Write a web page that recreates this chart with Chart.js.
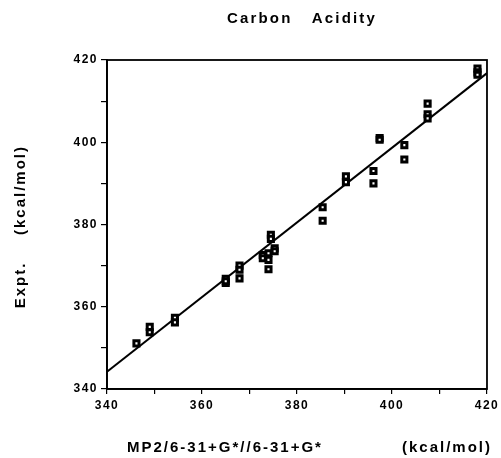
<!DOCTYPE html>
<html>
<head>
<meta charset="utf-8">
<script src="https://cdn.jsdelivr.net/npm/chart.js@4.4.0/dist/chart.umd.min.js"></script>
<style>
  html, body { margin: 0; padding: 0; background: #fff; }
  #wrap { width: 501px; height: 458px; position: relative; }
</style>
</head>
<body>
<div id="wrap"><canvas id="acidityChart"></canvas></div>
<script>
// calculated (MP2/6-31+G*//6-31+G*) vs experimental values, kcal/mol
var calcX = [346.2, 349.0, 349.0, 354.3, 354.3, 365.0, 365.0, 365.0, 367.9, 367.9, 367.9,
             372.8, 372.8, 374.0, 374.0, 374.0, 374.5, 374.5, 375.3, 375.3, 385.4, 385.4,
             390.3, 390.3, 396.1, 396.1, 397.4, 397.4, 402.6, 402.6, 407.5, 407.5, 407.5,
             418.0, 418.0, 418.0];
var exptY = [351.1, 355.1, 353.8, 357.3, 356.2, 366.8, 365.8, 366.2, 370.0, 369.0, 366.9,
             372.6, 371.8, 373.0, 371.4, 369.1, 377.5, 376.5, 374.2, 373.5, 384.2, 380.9,
             391.7, 390.3, 393.0, 390.0, 401.0, 400.6, 399.3, 395.8, 409.4, 406.8, 405.8,
             417.9, 417.0, 416.4];
// fitted line end points
var fitX = [340, 420];
var fitY = [344.2, 416.8];
var axisMin = 340, axisMax = 420;
var tickLabels = ['340', '360', '380', '400', '420'];

var points = calcX.map(function(x, i) { return { x: x, y: exptY[i] }; });
var fitLine = fitX.map(function(x, i) { return { x: x, y: fitY[i] }; });

var boldFont = { family: '"Liberation Sans", Arial, sans-serif', size: 12, weight: 'bold' };

function tickText(value) {
  var s = String(value);
  return tickLabels.indexOf(s) >= 0 ? s : '';
}

// frame + titles drawn on the canvas
var decorations = {
  id: 'decorations',
  beforeDraw: function(chart) {
    chart.ctx.letterSpacing = '1.5px';
  },
  afterDraw: function(chart) {
    var ctx = chart.ctx, a = chart.chartArea;
    ctx.save();
    ctx.strokeStyle = '#000';
    ctx.lineWidth = 1.8;
    ctx.strokeRect(a.left, a.top, a.right - a.left, a.bottom - a.top);

    ctx.fillStyle = '#000';
    ctx.textBaseline = 'middle';
    ctx.font = 'bold 15px "Liberation Sans", Arial, sans-serif';
    ctx.letterSpacing = '2.2px';
    ctx.textAlign = 'center';
    ctx.fillText('Carbon   Acidity', 302, 19);

    ctx.letterSpacing = '2px';
    ctx.textAlign = 'left';
    ctx.fillText('MP2/6-31+G*//6-31+G*', 127, 448);
    ctx.textAlign = 'right';
    ctx.fillText('(kcal/mol)', 492, 448);

    ctx.translate(21, 0);
    ctx.rotate(-Math.PI / 2);
    ctx.textAlign = 'center';
    ctx.fillText('Expt.', -285, 0);
    ctx.fillText('(kcal/mol)', -190, 0);
    ctx.restore();
  }
};

var ctx = document.getElementById('acidityChart').getContext('2d');
var chart = new Chart(ctx, {
  type: 'scatter',
  data: {
    datasets: [{
      label: 'fit',
      type: 'line',
      data: fitLine,
      borderColor: '#000',
      borderWidth: 2,
      pointRadius: 0,
      fill: false,
      order: 2
    }, {
      label: 'data',
      data: points,
      pointStyle: 'rect',
      pointRadius: 3.6,
      borderWidth: 3,
      borderColor: '#000',
      backgroundColor: '#fff',
      order: 1
    }]
  },
  options: {
    responsive: true,
    maintainAspectRatio: false,
    animation: false,
    layout: { padding: { top: 60, right: 11, bottom: 0, left: 0 } },
    plugins: {
      legend: { display: false },
      tooltip: { enabled: false }
    },
    scales: {
      x: {
        type: 'linear',
        min: axisMin,
        max: axisMax,
        afterFit: function(scale) { scale.height = 69; },
        ticks: { stepSize: 10, autoSkip: false, maxRotation: 0, color: '#000', font: boldFont, padding: 4, callback: tickText },
        grid: { drawOnChartArea: false, drawTicks: true, tickLength: 5, color: '#000', lineWidth: 1.2 },
        border: { display: true, color: '#000', width: 1.8 }
      },
      y: {
        type: 'linear',
        min: axisMin,
        max: axisMax,
        afterFit: function(scale) { scale.width = 107; },
        ticks: { stepSize: 10, autoSkip: false, color: '#000', font: boldFont, padding: 3, callback: tickText },
        grid: { drawOnChartArea: false, drawTicks: true, tickLength: 6, color: '#000', lineWidth: 1.2 },
        border: { display: true, color: '#000', width: 1.8 }
      }
    }
  },
  plugins: [decorations]
});
</script>
</body>
</html>
